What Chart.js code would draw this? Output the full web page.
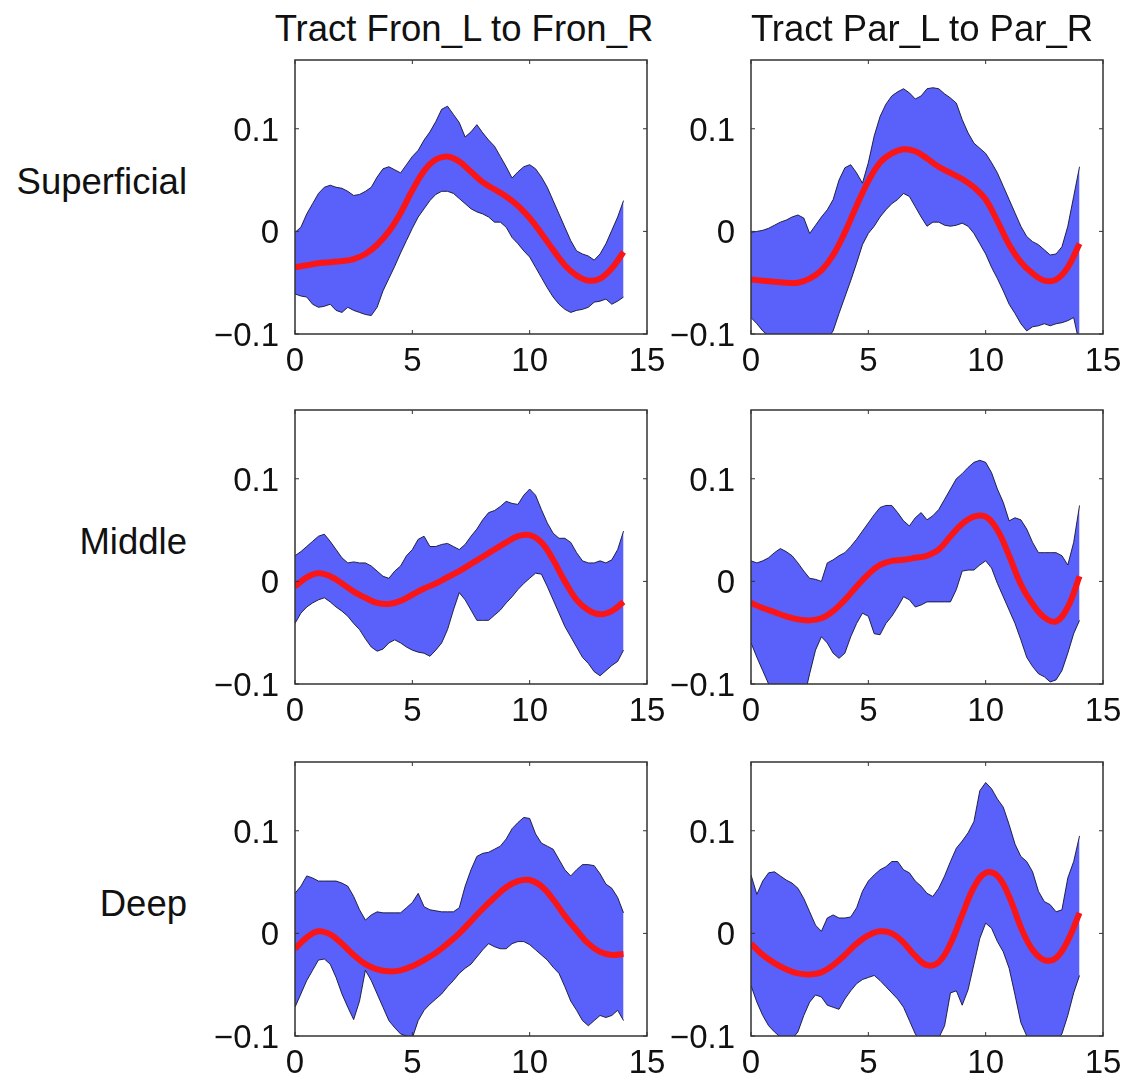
<!DOCTYPE html>
<html>
<head>
<meta charset="utf-8">
<script src="https://cdn.jsdelivr.net/npm/chart.js@4.4.1/dist/chart.umd.min.js"></script>
<style>
  body { margin: 0; background: #fff; }
  #fig { position: relative; width: 1124px; height: 1074px; overflow: hidden;
         font-family: "Liberation Sans", Arial, sans-serif; color: #111; }
  #fig canvas { position: absolute; }
  .lbl { position: absolute; font-size: 36.5px; line-height: 36px; white-space: nowrap; }
</style>
</head>
<body>
<div id="fig"></div>
<script>
// positions along the tract
const xBand = [0, 0.25, 0.5, 0.75, 1, 1.25, 1.5, 1.75, 2, 2.25, 2.5, 2.75, 3, 3.25,
  3.5, 3.75, 4, 4.25, 4.5, 4.75, 5, 5.25, 5.5, 5.75, 6, 6.25, 6.5, 6.75,
  7, 7.25, 7.5, 7.75, 8, 8.25, 8.5, 8.75, 9, 9.25, 9.5, 9.75, 10, 10.25,
  10.5, 10.75, 11, 11.25, 11.5, 11.75, 12, 12.25, 12.5, 12.75, 13, 13.25, 13.5, 13.75, 14];
const xMean = [0, 0.5, 1, 1.5, 2, 2.5, 3, 3.5, 4, 4.5, 5, 5.5, 6, 6.5, 7, 7.5,
  8, 8.5, 9, 9.5, 10, 10.5, 11, 11.5, 12, 12.5, 13, 13.5, 14];

const xTicks = [0, 5, 10, 15];
const yTicks = [-0.1, 0, 0.1];
const yTickLabels = ['\u22120.1', '0', '0.1'];
const colTitles = ['Tract Fron_L to Fron_R', 'Tract Par_L to Par_R'];
const rowLabels = ['Superficial', 'Middle', 'Deep'];

// Superficial, Fron
const supFronUpper = [-0.001, 0.004, 0.017, 0.027, 0.037, 0.043, 0.045, 0.043, 0.042, 0.039, 0.035, 0.036, 0.039, 0.043,
  0.053, 0.061, 0.063, 0.060, 0.057, 0.065, 0.073, 0.079, 0.089, 0.097, 0.107, 0.119, 0.122, 0.114,
  0.106, 0.092, 0.097, 0.104, 0.096, 0.089, 0.083, 0.073, 0.063, 0.052, 0.058, 0.063, 0.065, 0.061,
  0.053, 0.043, 0.030, 0.017, 0.004, -0.009, -0.019, -0.022, -0.024, -0.028, -0.022, -0.012, 0.001, 0.014, 0.030];
const supFronLower = [-0.061, -0.063, -0.064, -0.071, -0.074, -0.073, -0.071, -0.077, -0.079, -0.074, -0.077, -0.079, -0.081, -0.082,
  -0.074, -0.058, -0.046, -0.034, -0.021, -0.009, 0.003, 0.014, 0.022, 0.030, 0.036, 0.039, 0.039, 0.037,
  0.032, 0.027, 0.022, 0.019, 0.017, 0.014, 0.009, 0.009, 0.004, -0.006, -0.012, -0.019, -0.025, -0.035,
  -0.045, -0.055, -0.064, -0.071, -0.076, -0.079, -0.077, -0.076, -0.074, -0.069, -0.068, -0.066, -0.071, -0.068, -0.064];
const supFronMean = [-0.035, -0.033, -0.031, -0.030, -0.029, -0.027, -0.022, -0.013, 0.000, 0.018, 0.040, 0.059, 0.070, 0.073,
  0.068, 0.058, 0.048, 0.041, 0.034, 0.025, 0.013, -0.002, -0.018, -0.033, -0.043, -0.048, -0.046, -0.036, -0.020];

// Superficial, Par
const supParUpper = [-0.001, 0.000, 0.001, 0.003, 0.006, 0.009, 0.011, 0.014, 0.016, 0.013, -0.002, 0.006, 0.014, 0.021,
  0.031, 0.050, 0.062, 0.065, 0.057, 0.047, 0.067, 0.093, 0.112, 0.124, 0.132, 0.136, 0.139, 0.135,
  0.129, 0.132, 0.139, 0.140, 0.139, 0.134, 0.130, 0.125, 0.109, 0.096, 0.086, 0.081, 0.076, 0.067,
  0.057, 0.044, 0.031, 0.018, 0.005, -0.005, -0.010, -0.013, -0.018, -0.023, -0.022, -0.015, 0.005, 0.034, 0.063];
const supParLower = [-0.084, -0.090, -0.097, -0.102, -0.110, -0.115, -0.120, -0.120, -0.120, -0.120, -0.120, -0.115, -0.110, -0.105,
  -0.097, -0.080, -0.064, -0.048, -0.031, -0.013, -0.002, 0.005, 0.014, 0.021, 0.027, 0.031, 0.037, 0.034,
  0.024, 0.014, 0.005, 0.009, 0.009, 0.006, 0.005, 0.006, 0.008, 0.005, -0.002, -0.012, -0.022, -0.035,
  -0.046, -0.058, -0.071, -0.080, -0.090, -0.097, -0.093, -0.092, -0.090, -0.092, -0.090, -0.089, -0.087, -0.084, -0.110];
const supParMean = [-0.047, -0.048, -0.049, -0.050, -0.050, -0.046, -0.038, -0.023, -0.001, 0.025, 0.049, 0.067, 0.076, 0.080,
  0.078, 0.071, 0.063, 0.057, 0.051, 0.043, 0.031, 0.010, -0.013, -0.030, -0.041, -0.048, -0.047, -0.035, -0.012];

// Middle, Fron
const midFronUpper = [0.025, 0.029, 0.034, 0.039, 0.044, 0.046, 0.039, 0.031, 0.023, 0.018, 0.019, 0.018, 0.018, 0.015,
  0.010, 0.005, 0.003, 0.010, 0.015, 0.025, 0.031, 0.041, 0.044, 0.034, 0.034, 0.036, 0.037, 0.034,
  0.031, 0.036, 0.044, 0.051, 0.060, 0.067, 0.069, 0.073, 0.078, 0.076, 0.075, 0.084, 0.090, 0.084,
  0.070, 0.057, 0.047, 0.042, 0.042, 0.038, 0.028, 0.020, 0.018, 0.018, 0.020, 0.018, 0.021, 0.031, 0.049];
const midFronLower = [-0.041, -0.031, -0.025, -0.021, -0.018, -0.016, -0.020, -0.025, -0.029, -0.034, -0.041, -0.047, -0.056, -0.064,
  -0.068, -0.066, -0.060, -0.057, -0.060, -0.064, -0.067, -0.069, -0.070, -0.073, -0.067, -0.060, -0.047, -0.028,
  -0.011, -0.018, -0.028, -0.038, -0.038, -0.038, -0.033, -0.028, -0.021, -0.015, -0.008, -0.002, 0.003, 0.008,
  0.007, -0.005, -0.018, -0.031, -0.044, -0.054, -0.064, -0.074, -0.080, -0.088, -0.092, -0.087, -0.082, -0.078, -0.067];
const midFronMean = [-0.005, 0.004, 0.008, 0.005, -0.002, -0.010, -0.016, -0.021, -0.022, -0.019, -0.013, -0.007, -0.002, 0.004,
  0.010, 0.017, 0.024, 0.031, 0.038, 0.044, 0.045, 0.038, 0.021, 0.000, -0.018, -0.028, -0.032, -0.029, -0.020];

// Middle, Par
const midParUpper = [0.020, 0.018, 0.020, 0.023, 0.028, 0.032, 0.029, 0.025, 0.018, 0.010, 0.003, 0.002, 0.000, 0.018,
  0.021, 0.025, 0.028, 0.034, 0.041, 0.049, 0.057, 0.065, 0.072, 0.074, 0.074, 0.067, 0.059, 0.054,
  0.062, 0.067, 0.060, 0.064, 0.070, 0.080, 0.090, 0.100, 0.105, 0.111, 0.116, 0.118, 0.116, 0.106,
  0.090, 0.077, 0.059, 0.062, 0.060, 0.051, 0.038, 0.028, 0.028, 0.028, 0.028, 0.025, 0.016, 0.038, 0.074];
const midParLower = [-0.060, -0.074, -0.087, -0.100, -0.110, -0.120, -0.120, -0.120, -0.120, -0.115, -0.090, -0.067, -0.054, -0.060,
  -0.070, -0.075, -0.070, -0.054, -0.041, -0.031, -0.034, -0.051, -0.052, -0.041, -0.034, -0.025, -0.015, -0.018,
  -0.025, -0.023, -0.020, -0.020, -0.020, -0.020, -0.020, -0.008, 0.010, 0.011, 0.011, 0.016, 0.020, 0.013,
  -0.002, -0.015, -0.028, -0.041, -0.057, -0.074, -0.083, -0.090, -0.093, -0.098, -0.096, -0.087, -0.070, -0.051, -0.038];
const midParMean = [-0.021, -0.026, -0.030, -0.034, -0.037, -0.038, -0.036, -0.029, -0.018, -0.005, 0.007, 0.016, 0.020, 0.021,
  0.023, 0.025, 0.031, 0.044, 0.056, 0.063, 0.063, 0.050, 0.025, -0.003, -0.022, -0.035, -0.039, -0.025, 0.005];

// Deep, Fron
const deepFronUpper = [0.039, 0.046, 0.056, 0.054, 0.051, 0.051, 0.051, 0.051, 0.049, 0.046, 0.036, 0.023, 0.013, 0.018,
  0.021, 0.020, 0.020, 0.020, 0.020, 0.025, 0.030, 0.039, 0.026, 0.023, 0.022, 0.021, 0.021, 0.021,
  0.025, 0.046, 0.062, 0.075, 0.078, 0.079, 0.082, 0.085, 0.092, 0.102, 0.108, 0.113, 0.112, 0.097,
  0.088, 0.085, 0.082, 0.072, 0.062, 0.056, 0.062, 0.067, 0.067, 0.066, 0.058, 0.048, 0.044, 0.035, 0.020];
const deepFronLower = [-0.072, -0.059, -0.046, -0.036, -0.026, -0.025, -0.030, -0.043, -0.059, -0.072, -0.084, -0.066, -0.036, -0.046,
  -0.059, -0.072, -0.085, -0.092, -0.098, -0.100, -0.102, -0.085, -0.075, -0.069, -0.064, -0.059, -0.052, -0.046,
  -0.039, -0.034, -0.030, -0.023, -0.016, -0.010, -0.013, -0.015, -0.015, -0.010, -0.008, -0.008, -0.011, -0.016,
  -0.021, -0.026, -0.033, -0.039, -0.052, -0.066, -0.075, -0.085, -0.090, -0.085, -0.080, -0.082, -0.080, -0.075, -0.085];
const deepFronMean = [-0.015, -0.004, 0.002, -0.001, -0.010, -0.021, -0.030, -0.035, -0.037, -0.036, -0.032, -0.026, -0.019, -0.010,
  0.000, 0.012, 0.024, 0.035, 0.045, 0.051, 0.052, 0.046, 0.033, 0.017, 0.003, -0.010, -0.018, -0.021, -0.020];

// Deep, Par
const deepParUpper = [0.057, 0.038, 0.051, 0.059, 0.060, 0.056, 0.052, 0.049, 0.044, 0.034, 0.021, 0.008, 0.002, 0.015,
  0.018, 0.015, 0.015, 0.016, 0.025, 0.041, 0.051, 0.057, 0.062, 0.065, 0.070, 0.070, 0.062, 0.059,
  0.051, 0.046, 0.039, 0.036, 0.044, 0.056, 0.070, 0.083, 0.090, 0.098, 0.109, 0.139, 0.147, 0.141,
  0.131, 0.123, 0.106, 0.087, 0.075, 0.070, 0.060, 0.041, 0.031, 0.028, 0.021, 0.023, 0.054, 0.070, 0.095];
const deepParLower = [-0.051, -0.067, -0.080, -0.090, -0.096, -0.101, -0.105, -0.103, -0.096, -0.080, -0.067, -0.060, -0.062, -0.070,
  -0.072, -0.074, -0.064, -0.056, -0.049, -0.045, -0.043, -0.041, -0.046, -0.052, -0.058, -0.064, -0.072, -0.085,
  -0.098, -0.106, -0.106, -0.104, -0.102, -0.090, -0.058, -0.056, -0.070, -0.055, -0.030, -0.005, 0.010, 0.005,
  -0.008, -0.018, -0.034, -0.060, -0.087, -0.100, -0.105, -0.110, -0.110, -0.110, -0.105, -0.098, -0.080, -0.058, -0.041];
const deepParMean = [-0.010, -0.021, -0.029, -0.035, -0.039, -0.040, -0.038, -0.031, -0.021, -0.010, -0.002, 0.002, 0.000, -0.009,
  -0.022, -0.031, -0.028, -0.010, 0.018, 0.045, 0.059, 0.056, 0.036, 0.006, -0.016, -0.026, -0.024, -0.007, 0.020];

const panels = [
  { row: 0, col: 0, upper: supFronUpper, lower: supFronLower, mean: supFronMean },
  { row: 0, col: 1, upper: supParUpper, lower: supParLower, mean: supParMean },
  { row: 1, col: 0, upper: midFronUpper, lower: midFronLower, mean: midFronMean },
  { row: 1, col: 1, upper: midParUpper, lower: midParLower, mean: midParMean },
  { row: 2, col: 0, upper: deepFronUpper, lower: deepFronLower, mean: deepFronMean },
  { row: 2, col: 1, upper: deepParUpper, lower: deepParLower, mean: deepParMean }
];

// page layout (axes boxes)
const axLeft = [295, 751];
const axTop = [60, 410, 762];
const axW = 352, axH = 274;
const padL = 90, padT = 8, padR = 22, padB = 50;
const fontFamily = '"Liberation Sans", Arial, sans-serif';

const fig = document.getElementById('fig');

// box round the axes with inward ticks on all four sides
const frame = {
  id: 'frame',
  afterDraw(chart) {
    const { ctx, chartArea: a, scales: { x, y } } = chart;
    ctx.save();
    ctx.strokeStyle = '#333';
    ctx.lineWidth = 1;
    ctx.beginPath();
    xTicks.forEach(v => {
      const px = x.getPixelForValue(v);
      ctx.moveTo(px, a.bottom); ctx.lineTo(px, a.bottom - 4);
      ctx.moveTo(px, a.top); ctx.lineTo(px, a.top + 4);
    });
    yTicks.forEach(v => {
      const py = y.getPixelForValue(v);
      ctx.moveTo(a.left, py); ctx.lineTo(a.left + 4, py);
      ctx.moveTo(a.right, py); ctx.lineTo(a.right - 4, py);
    });
    ctx.stroke();
    ctx.lineWidth = 1.5;
    ctx.strokeRect(a.left, a.top, a.right - a.left, a.bottom - a.top);
    ctx.restore();
  }
};

const pts = (xs, ys) => xs.map((x, i) => ({ x: x, y: ys[i] }));

panels.forEach(p => {
  const canvas = document.createElement('canvas');
  canvas.width = padL + axW + padR;
  canvas.height = padT + axH + padB;
  canvas.style.left = (axLeft[p.col] - padL) + 'px';
  canvas.style.top = (axTop[p.row] - padT) + 'px';
  fig.appendChild(canvas);

  new Chart(canvas, {
    type: 'line',
    data: {
      datasets: [
        { data: pts(xMean, p.mean), borderColor: 'rgb(250, 22, 22)', borderWidth: 6,
          tension: 0.4, pointRadius: 0, fill: false },
        { data: pts(xBand, p.lower), borderColor: 'rgba(10, 10, 40, 0.85)', borderWidth: 1,
          tension: 0, pointRadius: 0, fill: false },
        { data: pts(xBand, p.upper), borderColor: 'rgba(10, 10, 40, 0.85)', borderWidth: 1,
          tension: 0, pointRadius: 0, fill: 1, backgroundColor: 'rgb(90, 97, 250)' }
      ]
    },
    options: {
      responsive: false,
      animation: false,
      events: [],
      layout: { padding: { top: padT, right: padR, left: 0, bottom: 0 } },
      plugins: { legend: { display: false }, tooltip: { enabled: false } },
      scales: {
        x: {
          type: 'linear', min: 0, max: 15,
          grid: { display: false, drawTicks: false }, border: { display: false },
          afterBuildTicks: s => { s.ticks = xTicks.map(v => ({ value: v })); },
          afterFit: s => { s.height = padB; s.paddingLeft = 0; s.paddingRight = 0; },
          ticks: { font: { size: 33, family: fontFamily }, color: '#111', padding: 8,
                   maxRotation: 0, autoSkip: false }
        },
        y: {
          type: 'linear', min: -0.1, max: 0.167,
          grid: { display: false, drawTicks: false }, border: { display: false },
          afterBuildTicks: s => { s.ticks = yTicks.map(v => ({ value: v })); },
          afterFit: s => { s.width = padL; s.paddingTop = 0; s.paddingBottom = 0; },
          ticks: { font: { size: 33, family: fontFamily }, color: '#111', padding: 16,
                   labelOffset: 3, autoSkip: false, callback: (v, i) => yTickLabels[i] }
        }
      }
    },
    plugins: [frame]
  });
});

// column titles and row labels
const titleCenter = [464, 922];
colTitles.forEach((t, c) => {
  const d = document.createElement('div');
  d.className = 'lbl';
  d.textContent = t;
  d.style.left = (titleCenter[c] - 250) + 'px';
  d.style.width = '500px';
  d.style.textAlign = 'center';
  d.style.top = '11px';
  fig.appendChild(d);
});
const rowLabelTop = [164, 524, 886];
rowLabels.forEach((t, r) => {
  const d = document.createElement('div');
  d.className = 'lbl';
  d.textContent = t;
  d.style.left = '0px';
  d.style.width = '187px';
  d.style.textAlign = 'right';
  d.style.top = rowLabelTop[r] + 'px';
  fig.appendChild(d);
});
</script>
</body>
</html>
